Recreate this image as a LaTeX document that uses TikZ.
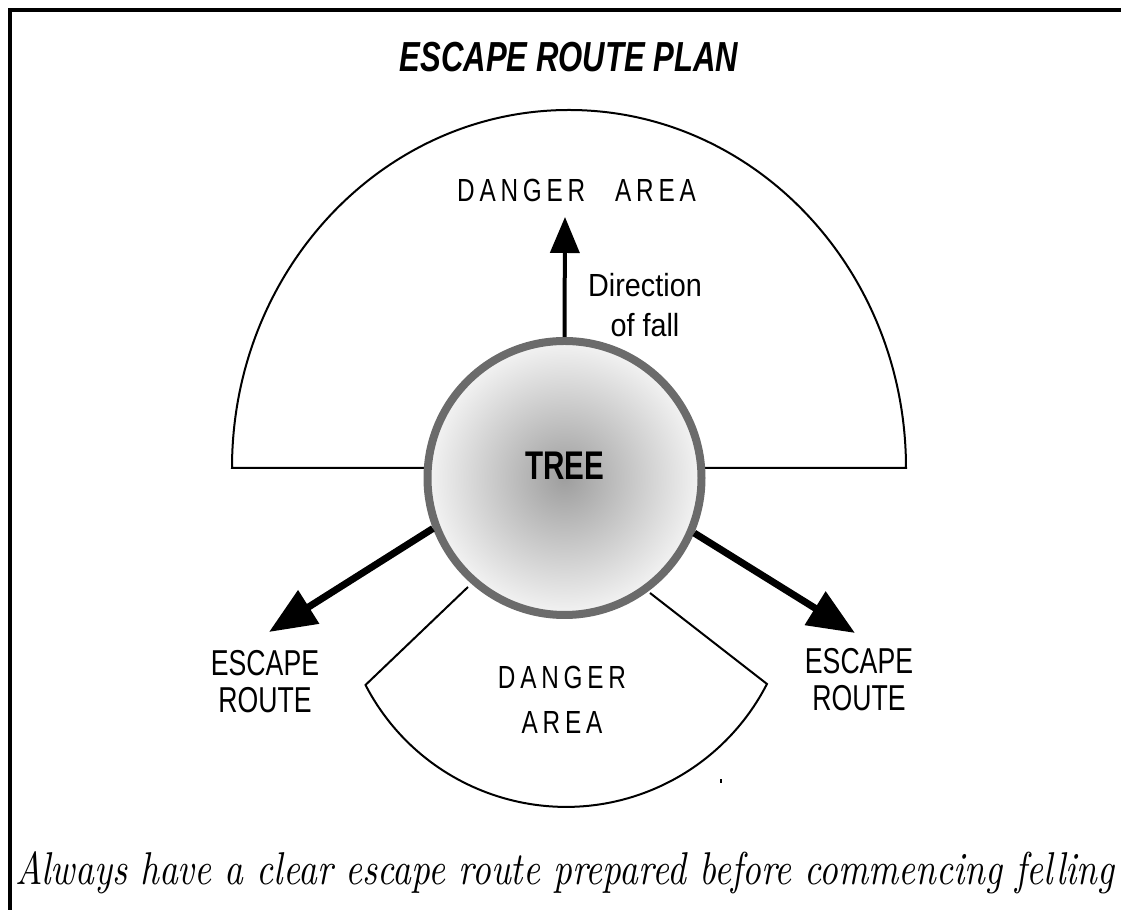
\documentclass[tikz,border=0pt]{standalone}
\usepackage{fontspec}
\usepackage{tikz}
\usetikzlibrary{arrows.meta}
\newfontfamily\condfont[FakeStretch=0.74]{Liberation Sans}
\newfontfamily\narrowfont[FakeStretch=0.9]{Liberation Sans}
\newfontfamily\spacedfont[FakeStretch=0.76,LetterSpace=15]{Liberation Sans}
\newfontfamily\capfont[FakeStretch=0.8]{lmroman10-italic.otf}
\definecolor{ringgray}{RGB}{107,107,107}
\definecolor{coregray}{RGB}{158,158,158}
\definecolor{rimgray}{RGB}{243,243,243}
\tikzset{zoneline/.style={line width=1pt},
         fallarrow/.style={line width=2pt, -{Triangle[length=18pt,width=14.5pt]}},
         escapearrow/.style={line width=3.5pt, -{Triangle[length=23.5pt,width=19pt]}},
         treebody/.style={circle, minimum size=137pt, inner sep=0pt,
         draw=ringgray, line width=4pt, inner color=coregray, outer color=rimgray},
         labeltext/.style={inner sep=0pt, align=center}}

\begin{document}
\begin{tikzpicture}[x=0.5pt,y=0.5pt]
\useasboundingbox (0,0) rectangle (1121,910);
\draw [line width=2pt] (9.5,0) -- (9.5,900) -- (1121,900);
\node [labeltext, font=\condfont\bfseries\itshape\fontsize{21}{24}\selectfont] (title) at (569,853) {ESCAPE ROUTE PLAN};

% danger areas
\draw [zoneline] (232,442) arc [start angle=180, end angle=0, x radius=337, y radius=358] -- cycle;
\draw [zoneline] (468,323) -- (365.5,225) arc [start angle=207.4, end angle=332.9, radius=225.8] -- (650,317);
\draw [line width=0.6pt] (721,127) -- (721,131);
\node [labeltext, font=\spacedfont\fontsize{16}{20}\selectfont] (dangerup) at (576.5,720) {DANGER\hspace{15pt}AREA};
\node [labeltext, font=\spacedfont\fontsize{16}{22.5}\selectfont] (dangerdown) at (562,210.5) {DANGER\\AREA};

% tree and escape routes
\node [treebody] (tree) at (564.5,432) {};
\node [labeltext, font=\condfont\bfseries\fontsize{20}{22}\selectfont] (treename) at (564.5,444) {TREE};
\coordinate (falltip) at (565,693);
\coordinate (escleft) at (269,278);
\coordinate (escright) at (855,277);
\draw [fallarrow] (tree.north) -- (falltip);
\draw [escapearrow] (tree.201) -- (escleft);
\draw [escapearrow] (tree.337) -- (escright);
\node [labeltext, font=\narrowfont\fontsize{16}{20}\selectfont] (fall) at (645,605) {Direction\\of fall};
\node [labeltext, font=\condfont\fontsize{18}{18.5}\selectfont] (routeleft) at (265,228.5) {ESCAPE\\ROUTE};
\node [labeltext, font=\condfont\fontsize{18}{18.5}\selectfont] (routeright) at (859,230) {ESCAPE\\ROUTE};

\node [inner sep=0pt, anchor=base, font=\capfont\fontsize{23}{26}\selectfont] (advice) at (565,25) {Always have a clear escape route prepared before commencing felling};
\end{tikzpicture}
\end{document}
